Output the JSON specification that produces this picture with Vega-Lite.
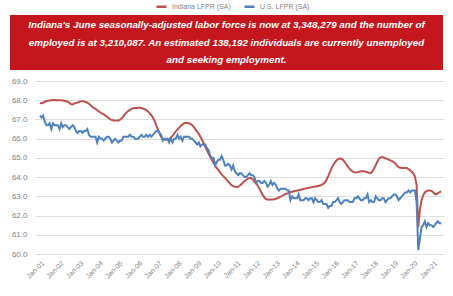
{
"$schema": "https://vega.github.io/schema/vega-lite/v6.json",
"padding": {"left": 10, "top": 0, "right": 5, "bottom": 5},
"background": "white",
"config": {"view": {"stroke": null}, "font": "Liberation Sans"},
"spacing": 7,
"datasets": {
"lfpr": [
{"d":"2001-01","s":"IN","v":67.85},{"d":"2001-02","s":"IN","v":67.84},{"d":"2001-03","s":"IN","v":67.87},{"d":"2001-04","s":"IN","v":67.92},{"d":"2001-05","s":"IN","v":67.95},{"d":"2001-06","s":"IN","v":67.97},{"d":"2001-07","s":"IN","v":67.99},{"d":"2001-08","s":"IN","v":68.00},{"d":"2001-09","s":"IN","v":68.01},{"d":"2001-10","s":"IN","v":68.01},{"d":"2001-11","s":"IN","v":68.00},{"d":"2001-12","s":"IN","v":68.00},
{"d":"2002-01","s":"IN","v":68.00},{"d":"2002-02","s":"IN","v":68.00},{"d":"2002-03","s":"IN","v":67.99},{"d":"2002-04","s":"IN","v":67.97},{"d":"2002-05","s":"IN","v":67.95},{"d":"2002-06","s":"IN","v":67.92},{"d":"2002-07","s":"IN","v":67.86},{"d":"2002-08","s":"IN","v":67.80},{"d":"2002-09","s":"IN","v":67.78},{"d":"2002-10","s":"IN","v":67.82},{"d":"2002-11","s":"IN","v":67.86},{"d":"2002-12","s":"IN","v":67.88},
{"d":"2003-01","s":"IN","v":67.91},{"d":"2003-02","s":"IN","v":67.94},{"d":"2003-03","s":"IN","v":67.95},{"d":"2003-04","s":"IN","v":67.94},{"d":"2003-05","s":"IN","v":67.91},{"d":"2003-06","s":"IN","v":67.87},{"d":"2003-07","s":"IN","v":67.82},{"d":"2003-08","s":"IN","v":67.74},{"d":"2003-09","s":"IN","v":67.66},{"d":"2003-10","s":"IN","v":67.60},{"d":"2003-11","s":"IN","v":67.55},{"d":"2003-12","s":"IN","v":67.48},
{"d":"2004-01","s":"IN","v":67.42},{"d":"2004-02","s":"IN","v":67.36},{"d":"2004-03","s":"IN","v":67.31},{"d":"2004-04","s":"IN","v":67.26},{"d":"2004-05","s":"IN","v":67.20},{"d":"2004-06","s":"IN","v":67.14},{"d":"2004-07","s":"IN","v":67.07},{"d":"2004-08","s":"IN","v":67.00},{"d":"2004-09","s":"IN","v":66.97},{"d":"2004-10","s":"IN","v":66.95},{"d":"2004-11","s":"IN","v":66.94},{"d":"2004-12","s":"IN","v":66.94},
{"d":"2005-01","s":"IN","v":66.95},{"d":"2005-02","s":"IN","v":66.99},{"d":"2005-03","s":"IN","v":67.06},{"d":"2005-04","s":"IN","v":67.16},{"d":"2005-05","s":"IN","v":67.28},{"d":"2005-06","s":"IN","v":67.37},{"d":"2005-07","s":"IN","v":67.44},{"d":"2005-08","s":"IN","v":67.50},{"d":"2005-09","s":"IN","v":67.55},{"d":"2005-10","s":"IN","v":67.58},{"d":"2005-11","s":"IN","v":67.60},{"d":"2005-12","s":"IN","v":67.60},
{"d":"2006-01","s":"IN","v":67.61},{"d":"2006-02","s":"IN","v":67.61},{"d":"2006-03","s":"IN","v":67.60},{"d":"2006-04","s":"IN","v":67.57},{"d":"2006-05","s":"IN","v":67.53},{"d":"2006-06","s":"IN","v":67.49},{"d":"2006-07","s":"IN","v":67.42},{"d":"2006-08","s":"IN","v":67.33},{"d":"2006-09","s":"IN","v":67.22},{"d":"2006-10","s":"IN","v":67.10},{"d":"2006-11","s":"IN","v":66.92},{"d":"2006-12","s":"IN","v":66.70},
{"d":"2007-01","s":"IN","v":66.48},{"d":"2007-02","s":"IN","v":66.28},{"d":"2007-03","s":"IN","v":66.10},{"d":"2007-04","s":"IN","v":65.98},{"d":"2007-05","s":"IN","v":65.95},{"d":"2007-06","s":"IN","v":65.94},{"d":"2007-07","s":"IN","v":65.96},{"d":"2007-08","s":"IN","v":65.99},{"d":"2007-09","s":"IN","v":66.05},{"d":"2007-10","s":"IN","v":66.15},{"d":"2007-11","s":"IN","v":66.27},{"d":"2007-12","s":"IN","v":66.38},
{"d":"2008-01","s":"IN","v":66.47},{"d":"2008-02","s":"IN","v":66.57},{"d":"2008-03","s":"IN","v":66.66},{"d":"2008-04","s":"IN","v":66.73},{"d":"2008-05","s":"IN","v":66.79},{"d":"2008-06","s":"IN","v":66.82},{"d":"2008-07","s":"IN","v":66.82},{"d":"2008-08","s":"IN","v":66.80},{"d":"2008-09","s":"IN","v":66.76},{"d":"2008-10","s":"IN","v":66.70},{"d":"2008-11","s":"IN","v":66.60},{"d":"2008-12","s":"IN","v":66.48},
{"d":"2009-01","s":"IN","v":66.36},{"d":"2009-02","s":"IN","v":66.25},{"d":"2009-03","s":"IN","v":66.10},{"d":"2009-04","s":"IN","v":65.94},{"d":"2009-05","s":"IN","v":65.76},{"d":"2009-06","s":"IN","v":65.58},{"d":"2009-07","s":"IN","v":65.40},{"d":"2009-08","s":"IN","v":65.22},{"d":"2009-09","s":"IN","v":65.05},{"d":"2009-10","s":"IN","v":64.90},{"d":"2009-11","s":"IN","v":64.74},{"d":"2009-12","s":"IN","v":64.60},
{"d":"2010-01","s":"IN","v":64.46},{"d":"2010-02","s":"IN","v":64.36},{"d":"2010-03","s":"IN","v":64.25},{"d":"2010-04","s":"IN","v":64.14},{"d":"2010-05","s":"IN","v":64.05},{"d":"2010-06","s":"IN","v":63.96},{"d":"2010-07","s":"IN","v":63.87},{"d":"2010-08","s":"IN","v":63.77},{"d":"2010-09","s":"IN","v":63.67},{"d":"2010-10","s":"IN","v":63.58},{"d":"2010-11","s":"IN","v":63.53},{"d":"2010-12","s":"IN","v":63.50},
{"d":"2011-01","s":"IN","v":63.49},{"d":"2011-02","s":"IN","v":63.50},{"d":"2011-03","s":"IN","v":63.55},{"d":"2011-04","s":"IN","v":63.63},{"d":"2011-05","s":"IN","v":63.72},{"d":"2011-06","s":"IN","v":63.80},{"d":"2011-07","s":"IN","v":63.86},{"d":"2011-08","s":"IN","v":63.92},{"d":"2011-09","s":"IN","v":63.96},{"d":"2011-10","s":"IN","v":63.95},{"d":"2011-11","s":"IN","v":63.88},{"d":"2011-12","s":"IN","v":63.76},
{"d":"2012-01","s":"IN","v":63.68},{"d":"2012-02","s":"IN","v":63.55},{"d":"2012-03","s":"IN","v":63.40},{"d":"2012-04","s":"IN","v":63.24},{"d":"2012-05","s":"IN","v":63.08},{"d":"2012-06","s":"IN","v":62.95},{"d":"2012-07","s":"IN","v":62.86},{"d":"2012-08","s":"IN","v":62.83},{"d":"2012-09","s":"IN","v":62.82},{"d":"2012-10","s":"IN","v":62.83},{"d":"2012-11","s":"IN","v":62.84},{"d":"2012-12","s":"IN","v":62.85},
{"d":"2013-01","s":"IN","v":62.87},{"d":"2013-02","s":"IN","v":62.90},{"d":"2013-03","s":"IN","v":62.94},{"d":"2013-04","s":"IN","v":62.98},{"d":"2013-05","s":"IN","v":63.03},{"d":"2013-06","s":"IN","v":63.08},{"d":"2013-07","s":"IN","v":63.12},{"d":"2013-08","s":"IN","v":63.15},{"d":"2013-09","s":"IN","v":63.18},{"d":"2013-10","s":"IN","v":63.21},{"d":"2013-11","s":"IN","v":63.24},{"d":"2013-12","s":"IN","v":63.26},
{"d":"2014-01","s":"IN","v":63.28},{"d":"2014-02","s":"IN","v":63.30},{"d":"2014-03","s":"IN","v":63.32},{"d":"2014-04","s":"IN","v":63.34},{"d":"2014-05","s":"IN","v":63.36},{"d":"2014-06","s":"IN","v":63.38},{"d":"2014-07","s":"IN","v":63.40},{"d":"2014-08","s":"IN","v":63.42},{"d":"2014-09","s":"IN","v":63.44},{"d":"2014-10","s":"IN","v":63.46},{"d":"2014-11","s":"IN","v":63.48},{"d":"2014-12","s":"IN","v":63.50},
{"d":"2015-01","s":"IN","v":63.51},{"d":"2015-02","s":"IN","v":63.52},{"d":"2015-03","s":"IN","v":63.54},{"d":"2015-04","s":"IN","v":63.56},{"d":"2015-05","s":"IN","v":63.60},{"d":"2015-06","s":"IN","v":63.64},{"d":"2015-07","s":"IN","v":63.72},{"d":"2015-08","s":"IN","v":63.86},{"d":"2015-09","s":"IN","v":64.05},{"d":"2015-10","s":"IN","v":64.25},{"d":"2015-11","s":"IN","v":64.45},{"d":"2015-12","s":"IN","v":64.62},
{"d":"2016-01","s":"IN","v":64.75},{"d":"2016-02","s":"IN","v":64.86},{"d":"2016-03","s":"IN","v":64.94},{"d":"2016-04","s":"IN","v":64.97},{"d":"2016-05","s":"IN","v":64.96},{"d":"2016-06","s":"IN","v":64.90},{"d":"2016-07","s":"IN","v":64.80},{"d":"2016-08","s":"IN","v":64.67},{"d":"2016-09","s":"IN","v":64.55},{"d":"2016-10","s":"IN","v":64.44},{"d":"2016-11","s":"IN","v":64.35},{"d":"2016-12","s":"IN","v":64.28},
{"d":"2017-01","s":"IN","v":64.25},{"d":"2017-02","s":"IN","v":64.24},{"d":"2017-03","s":"IN","v":64.26},{"d":"2017-04","s":"IN","v":64.28},{"d":"2017-05","s":"IN","v":64.30},{"d":"2017-06","s":"IN","v":64.31},{"d":"2017-07","s":"IN","v":64.30},{"d":"2017-08","s":"IN","v":64.28},{"d":"2017-09","s":"IN","v":64.25},{"d":"2017-10","s":"IN","v":64.22},{"d":"2017-11","s":"IN","v":64.21},{"d":"2017-12","s":"IN","v":64.30},
{"d":"2018-01","s":"IN","v":64.45},{"d":"2018-02","s":"IN","v":64.62},{"d":"2018-03","s":"IN","v":64.80},{"d":"2018-04","s":"IN","v":64.95},{"d":"2018-05","s":"IN","v":65.03},{"d":"2018-06","s":"IN","v":65.05},{"d":"2018-07","s":"IN","v":65.02},{"d":"2018-08","s":"IN","v":64.98},{"d":"2018-09","s":"IN","v":64.95},{"d":"2018-10","s":"IN","v":64.91},{"d":"2018-11","s":"IN","v":64.87},{"d":"2018-12","s":"IN","v":64.83},
{"d":"2019-01","s":"IN","v":64.78},{"d":"2019-02","s":"IN","v":64.70},{"d":"2019-03","s":"IN","v":64.60},{"d":"2019-04","s":"IN","v":64.52},{"d":"2019-05","s":"IN","v":64.48},{"d":"2019-06","s":"IN","v":64.47},{"d":"2019-07","s":"IN","v":64.47},{"d":"2019-08","s":"IN","v":64.48},{"d":"2019-09","s":"IN","v":64.47},{"d":"2019-10","s":"IN","v":64.42},{"d":"2019-11","s":"IN","v":64.35},{"d":"2019-12","s":"IN","v":64.28},
{"d":"2020-01","s":"IN","v":64.18},{"d":"2020-02","s":"IN","v":64.00},{"d":"2020-03","s":"IN","v":63.60},{"d":"2020-04","s":"IN","v":61.40},{"d":"2020-05","s":"IN","v":62.30},{"d":"2020-06","s":"IN","v":62.80},{"d":"2020-07","s":"IN","v":63.05},{"d":"2020-08","s":"IN","v":63.20},{"d":"2020-09","s":"IN","v":63.27},{"d":"2020-10","s":"IN","v":63.30},{"d":"2020-11","s":"IN","v":63.30},{"d":"2020-12","s":"IN","v":63.28},
{"d":"2021-01","s":"IN","v":63.22},{"d":"2021-02","s":"IN","v":63.12},{"d":"2021-03","s":"IN","v":63.10},{"d":"2021-04","s":"IN","v":63.16},{"d":"2021-05","s":"IN","v":63.22},{"d":"2021-06","s":"IN","v":63.25},
{"d":"2001-01","s":"US","v":67.2},{"d":"2001-02","s":"US","v":67.1},{"d":"2001-03","s":"US","v":67.2},{"d":"2001-04","s":"US","v":66.9},{"d":"2001-05","s":"US","v":66.7},{"d":"2001-06","s":"US","v":66.7},{"d":"2001-07","s":"US","v":66.8},{"d":"2001-08","s":"US","v":66.5},{"d":"2001-09","s":"US","v":66.8},{"d":"2001-10","s":"US","v":66.7},{"d":"2001-11","s":"US","v":66.7},{"d":"2001-12","s":"US","v":66.7},
{"d":"2002-01","s":"US","v":66.5},{"d":"2002-02","s":"US","v":66.8},{"d":"2002-03","s":"US","v":66.6},{"d":"2002-04","s":"US","v":66.7},{"d":"2002-05","s":"US","v":66.7},{"d":"2002-06","s":"US","v":66.6},{"d":"2002-07","s":"US","v":66.5},{"d":"2002-08","s":"US","v":66.6},{"d":"2002-09","s":"US","v":66.7},{"d":"2002-10","s":"US","v":66.6},{"d":"2002-11","s":"US","v":66.4},{"d":"2002-12","s":"US","v":66.3},
{"d":"2003-01","s":"US","v":66.4},{"d":"2003-02","s":"US","v":66.4},{"d":"2003-03","s":"US","v":66.3},{"d":"2003-04","s":"US","v":66.4},{"d":"2003-05","s":"US","v":66.4},{"d":"2003-06","s":"US","v":66.5},{"d":"2003-07","s":"US","v":66.2},{"d":"2003-08","s":"US","v":66.1},{"d":"2003-09","s":"US","v":66.1},{"d":"2003-10","s":"US","v":66.1},{"d":"2003-11","s":"US","v":66.1},{"d":"2003-12","s":"US","v":65.8},
{"d":"2004-01","s":"US","v":66.1},{"d":"2004-02","s":"US","v":66.0},{"d":"2004-03","s":"US","v":66.0},{"d":"2004-04","s":"US","v":65.9},{"d":"2004-05","s":"US","v":66.0},{"d":"2004-06","s":"US","v":66.1},{"d":"2004-07","s":"US","v":66.1},{"d":"2004-08","s":"US","v":66.0},{"d":"2004-09","s":"US","v":65.8},{"d":"2004-10","s":"US","v":65.9},{"d":"2004-11","s":"US","v":66.0},{"d":"2004-12","s":"US","v":65.9},
{"d":"2005-01","s":"US","v":65.8},{"d":"2005-02","s":"US","v":65.9},{"d":"2005-03","s":"US","v":65.9},{"d":"2005-04","s":"US","v":66.1},{"d":"2005-05","s":"US","v":66.1},{"d":"2005-06","s":"US","v":66.1},{"d":"2005-07","s":"US","v":66.1},{"d":"2005-08","s":"US","v":66.2},{"d":"2005-09","s":"US","v":66.1},{"d":"2005-10","s":"US","v":66.1},{"d":"2005-11","s":"US","v":66.0},{"d":"2005-12","s":"US","v":66.0},
{"d":"2006-01","s":"US","v":66.0},{"d":"2006-02","s":"US","v":66.1},{"d":"2006-03","s":"US","v":66.2},{"d":"2006-04","s":"US","v":66.1},{"d":"2006-05","s":"US","v":66.1},{"d":"2006-06","s":"US","v":66.2},{"d":"2006-07","s":"US","v":66.1},{"d":"2006-08","s":"US","v":66.2},{"d":"2006-09","s":"US","v":66.1},{"d":"2006-10","s":"US","v":66.2},{"d":"2006-11","s":"US","v":66.3},{"d":"2006-12","s":"US","v":66.4},
{"d":"2007-01","s":"US","v":66.4},{"d":"2007-02","s":"US","v":66.3},{"d":"2007-03","s":"US","v":66.2},{"d":"2007-04","s":"US","v":65.9},{"d":"2007-05","s":"US","v":66.0},{"d":"2007-06","s":"US","v":66.0},{"d":"2007-07","s":"US","v":66.0},{"d":"2007-08","s":"US","v":65.8},{"d":"2007-09","s":"US","v":66.0},{"d":"2007-10","s":"US","v":65.8},{"d":"2007-11","s":"US","v":66.0},{"d":"2007-12","s":"US","v":66.0},
{"d":"2008-01","s":"US","v":66.2},{"d":"2008-02","s":"US","v":66.0},{"d":"2008-03","s":"US","v":66.1},{"d":"2008-04","s":"US","v":65.9},{"d":"2008-05","s":"US","v":66.1},{"d":"2008-06","s":"US","v":66.1},{"d":"2008-07","s":"US","v":66.1},{"d":"2008-08","s":"US","v":66.1},{"d":"2008-09","s":"US","v":66.0},{"d":"2008-10","s":"US","v":66.0},{"d":"2008-11","s":"US","v":65.9},{"d":"2008-12","s":"US","v":65.8},
{"d":"2009-01","s":"US","v":65.7},{"d":"2009-02","s":"US","v":65.8},{"d":"2009-03","s":"US","v":65.6},{"d":"2009-04","s":"US","v":65.7},{"d":"2009-05","s":"US","v":65.7},{"d":"2009-06","s":"US","v":65.7},{"d":"2009-07","s":"US","v":65.5},{"d":"2009-08","s":"US","v":65.4},{"d":"2009-09","s":"US","v":65.1},{"d":"2009-10","s":"US","v":65.0},{"d":"2009-11","s":"US","v":65.0},{"d":"2009-12","s":"US","v":64.6},
{"d":"2010-01","s":"US","v":64.8},{"d":"2010-02","s":"US","v":64.9},{"d":"2010-03","s":"US","v":64.9},{"d":"2010-04","s":"US","v":65.1},{"d":"2010-05","s":"US","v":64.9},{"d":"2010-06","s":"US","v":64.6},{"d":"2010-07","s":"US","v":64.6},{"d":"2010-08","s":"US","v":64.7},{"d":"2010-09","s":"US","v":64.6},{"d":"2010-10","s":"US","v":64.4},{"d":"2010-11","s":"US","v":64.6},{"d":"2010-12","s":"US","v":64.3},
{"d":"2011-01","s":"US","v":64.2},{"d":"2011-02","s":"US","v":64.1},{"d":"2011-03","s":"US","v":64.2},{"d":"2011-04","s":"US","v":64.2},{"d":"2011-05","s":"US","v":64.1},{"d":"2011-06","s":"US","v":64.0},{"d":"2011-07","s":"US","v":64.0},{"d":"2011-08","s":"US","v":64.1},{"d":"2011-09","s":"US","v":64.2},{"d":"2011-10","s":"US","v":64.1},{"d":"2011-11","s":"US","v":64.1},{"d":"2011-12","s":"US","v":64.0},
{"d":"2012-01","s":"US","v":63.7},{"d":"2012-02","s":"US","v":63.8},{"d":"2012-03","s":"US","v":63.8},{"d":"2012-04","s":"US","v":63.7},{"d":"2012-05","s":"US","v":63.7},{"d":"2012-06","s":"US","v":63.8},{"d":"2012-07","s":"US","v":63.7},{"d":"2012-08","s":"US","v":63.5},{"d":"2012-09","s":"US","v":63.6},{"d":"2012-10","s":"US","v":63.8},{"d":"2012-11","s":"US","v":63.6},{"d":"2012-12","s":"US","v":63.7},
{"d":"2013-01","s":"US","v":63.6},{"d":"2013-02","s":"US","v":63.4},{"d":"2013-03","s":"US","v":63.3},{"d":"2013-04","s":"US","v":63.4},{"d":"2013-05","s":"US","v":63.4},{"d":"2013-06","s":"US","v":63.4},{"d":"2013-07","s":"US","v":63.4},{"d":"2013-08","s":"US","v":63.3},{"d":"2013-09","s":"US","v":63.3},{"d":"2013-10","s":"US","v":62.8},{"d":"2013-11","s":"US","v":63.0},{"d":"2013-12","s":"US","v":62.9},
{"d":"2014-01","s":"US","v":62.9},{"d":"2014-02","s":"US","v":62.9},{"d":"2014-03","s":"US","v":63.1},{"d":"2014-04","s":"US","v":62.8},{"d":"2014-05","s":"US","v":62.8},{"d":"2014-06","s":"US","v":62.8},{"d":"2014-07","s":"US","v":62.9},{"d":"2014-08","s":"US","v":62.9},{"d":"2014-09","s":"US","v":62.8},{"d":"2014-10","s":"US","v":62.9},{"d":"2014-11","s":"US","v":62.9},{"d":"2014-12","s":"US","v":62.7},
{"d":"2015-01","s":"US","v":62.9},{"d":"2015-02","s":"US","v":62.8},{"d":"2015-03","s":"US","v":62.7},{"d":"2015-04","s":"US","v":62.7},{"d":"2015-05","s":"US","v":62.8},{"d":"2015-06","s":"US","v":62.6},{"d":"2015-07","s":"US","v":62.6},{"d":"2015-08","s":"US","v":62.6},{"d":"2015-09","s":"US","v":62.4},{"d":"2015-10","s":"US","v":62.5},{"d":"2015-11","s":"US","v":62.5},{"d":"2015-12","s":"US","v":62.7},
{"d":"2016-01","s":"US","v":62.7},{"d":"2016-02","s":"US","v":62.8},{"d":"2016-03","s":"US","v":62.9},{"d":"2016-04","s":"US","v":62.7},{"d":"2016-05","s":"US","v":62.6},{"d":"2016-06","s":"US","v":62.7},{"d":"2016-07","s":"US","v":62.8},{"d":"2016-08","s":"US","v":62.8},{"d":"2016-09","s":"US","v":62.8},{"d":"2016-10","s":"US","v":62.7},{"d":"2016-11","s":"US","v":62.7},{"d":"2016-12","s":"US","v":62.7},
{"d":"2017-01","s":"US","v":62.9},{"d":"2017-02","s":"US","v":62.9},{"d":"2017-03","s":"US","v":63.0},{"d":"2017-04","s":"US","v":62.9},{"d":"2017-05","s":"US","v":62.8},{"d":"2017-06","s":"US","v":62.8},{"d":"2017-07","s":"US","v":62.9},{"d":"2017-08","s":"US","v":62.9},{"d":"2017-09","s":"US","v":63.1},{"d":"2017-10","s":"US","v":62.7},{"d":"2017-11","s":"US","v":62.8},{"d":"2017-12","s":"US","v":62.7},
{"d":"2018-01","s":"US","v":62.7},{"d":"2018-02","s":"US","v":63.0},{"d":"2018-03","s":"US","v":62.9},{"d":"2018-04","s":"US","v":62.8},{"d":"2018-05","s":"US","v":62.8},{"d":"2018-06","s":"US","v":62.9},{"d":"2018-07","s":"US","v":62.9},{"d":"2018-08","s":"US","v":62.7},{"d":"2018-09","s":"US","v":62.8},{"d":"2018-10","s":"US","v":62.9},{"d":"2018-11","s":"US","v":62.9},{"d":"2018-12","s":"US","v":63.0},
{"d":"2019-01","s":"US","v":63.1},{"d":"2019-02","s":"US","v":63.1},{"d":"2019-03","s":"US","v":63.0},{"d":"2019-04","s":"US","v":62.8},{"d":"2019-05","s":"US","v":62.9},{"d":"2019-06","s":"US","v":63.0},{"d":"2019-07","s":"US","v":63.1},{"d":"2019-08","s":"US","v":63.2},{"d":"2019-09","s":"US","v":63.2},{"d":"2019-10","s":"US","v":63.3},{"d":"2019-11","s":"US","v":63.2},{"d":"2019-12","s":"US","v":63.3},
{"d":"2020-01","s":"US","v":63.3},{"d":"2020-02","s":"US","v":63.3},{"d":"2020-03","s":"US","v":62.7},{"d":"2020-04","s":"US","v":60.2},{"d":"2020-05","s":"US","v":60.8},{"d":"2020-06","s":"US","v":61.4},{"d":"2020-07","s":"US","v":61.5},{"d":"2020-08","s":"US","v":61.7},{"d":"2020-09","s":"US","v":61.4},{"d":"2020-10","s":"US","v":61.6},{"d":"2020-11","s":"US","v":61.5},{"d":"2020-12","s":"US","v":61.5},
{"d":"2021-01","s":"US","v":61.4},{"d":"2021-02","s":"US","v":61.5},{"d":"2021-03","s":"US","v":61.6},{"d":"2021-04","s":"US","v":61.7},{"d":"2021-05","s":"US","v":61.6},{"d":"2021-06","s":"US","v":61.6}
]
},
"vconcat": [
{
"width": 433,
"height": 55,
"view": {"fill": "#c4161c", "stroke": null},
"data": {"values": [
{"n": 1, "t": "Indiana's June seasonally-adjusted labor force is now at 3,348,279 and the number of"},
{"n": 2, "t": "employed is at 3,210,087. An estimated 138,192 individuals are currently unemployed"},
{"n": 3, "t": "and seeking employment."}
]},
"mark": {"type": "text", "color": "white", "fontSize": 9.8, "fontStyle": "italic", "fontWeight": "bold", "baseline": "middle", "align": "center", "font": "Liberation Sans"},
"encoding": {
"y": {"field": "n", "type": "ordinal", "scale": {"type": "point", "padding": 0.57}, "axis": null},
"text": {"field": "t"}
}
},
{
"spacing": 0,
"hconcat": [
{"width": 1, "height": 1, "data": {"values": []}, "mark": "point"},
{
"width": 409,
"height": 173,
"data": {"name": "lfpr", "format": {"parse": {"d": "date:'%Y-%m'"}}},
"mark": {"type": "line", "strokeWidth": 2},
"encoding": {
"x": {"field": "d", "type": "temporal",
"scale": {"domain": [{"year": 2000, "month": "Oct", "date": 2}, {"year": 2021, "month": "Jul", "date": 23}], "nice": false},
"axis": {"title": null, "format": "%b-%y", "tickCount": {"interval": "year", "step": 1}, "labelAngle": -45, "labelFontSize": 7, "labelColor": "#7f7f7f", "grid": false, "domain": false, "ticks": false, "labelPadding": 5, "labelOverlap": false}},
"y": {"field": "v", "type": "quantitative",
"scale": {"domain": [60, 69], "nice": false, "zero": false},
"axis": {"title": null, "values": [60, 61, 62, 63, 64, 65, 66, 67, 68, 69], "format": ".1f", "domain": false, "ticks": false, "labelPadding": 8, "labelFontSize": 8, "labelColor": "#7f7f7f", "gridColor": "#dedede", "gridWidth": 1}},
"color": {"field": "s", "type": "nominal",
"scale": {"domain": ["IN", "US"], "range": ["#c0504d", "#4f81bd"]},
"legend": {"title": null, "orient": "none", "legendX": 145, "legendY": -15, "direction": "horizontal", "symbolType": "stroke", "symbolSize": 100, "symbolStrokeWidth": 2.5, "labelFontSize": 7, "labelColor": "#7f7f7f", "labelOffset": 4, "columnPadding": 8, "labelExpr": "datum.label == 'IN' ? 'Indiana LFPR (SA)' : 'U.S. LFPR (SA)'"}}
}
}
]
}
]
}
